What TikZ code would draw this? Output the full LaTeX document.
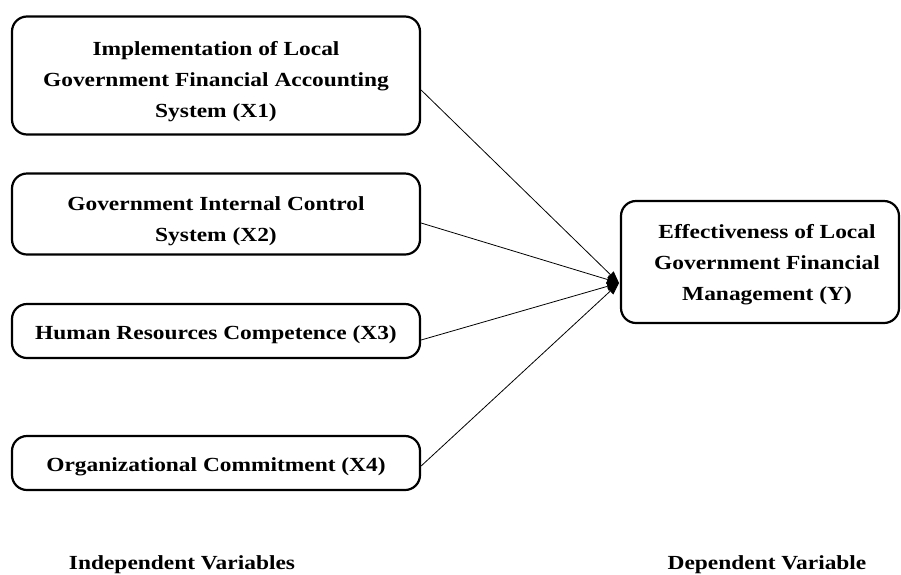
\documentclass[tikz,border=0pt]{standalone}
\usepackage{fontspec}
\setmainfont{Liberation Serif}[FakeStretch=1.17]
\usetikzlibrary{arrows.meta}
\begin{document}
\begin{tikzpicture}[x=1pt,y=-1pt,
  varbox/.style={draw=black, line width=2.2pt, rounded corners=15pt, inner sep=0pt},
  boxtext/.style={align=center, inner sep=0pt, font=\fontsize{20}{31}\selectfont\bfseries},
  link/.style={line width=0.8pt, -{Triangle[length=12pt,width=9pt]}},
  caption/.style={font=\fontsize{20}{24}\selectfont\bfseries}]
\useasboundingbox (0,0) rectangle (901,574);
% independent variables: frames
\node[varbox, minimum width=408pt, minimum height=118pt] (x1) at (216,75.5) {};
\node[varbox, minimum width=408pt, minimum height=81pt] (x2) at (216,214) {};
\node[varbox, minimum width=408pt, minimum height=54pt] (x3) at (216,331) {};
\node[varbox, minimum width=408pt, minimum height=54pt] (x4) at (216,463) {};
% independent variables: labels
\node[boxtext] (x1t) at (216,81.5)
  {Implementation of Local\\Government Financial Accounting\\System (X1)};
\node[boxtext] (x2t) at (216,221)
  {Government Internal Control\\System (X2)};
\node[boxtext] (x3t) at (216,334.5) {Human Resources Competence (X3)};
\node[boxtext] (x4t) at (216,467) {Organizational Commitment (X4)};
% dependent variable
\node[varbox, minimum width=278pt, minimum height=122pt] (y) at (760,262) {};
\node[boxtext] (yt) at (767,265)
  {Effectiveness of Local\\Government Financial\\Management (Y)};
% paths into the dependent variable
\coordinate (tip) at (619,283);
\draw[link] (x1.east |- 0,90) -- (tip);
\draw[link] (x2.east |- 0,223) -- (tip);
\draw[link] (x3.east |- 0,340) -- (tip);
\draw[link] (x4.east |- 0,466) -- (tip);
% captions
\node[caption] (indep) at (182,565) {Independent Variables};
\node[caption] (dep) at (767,565) {Dependent Variable};
\end{tikzpicture}
\end{document}
